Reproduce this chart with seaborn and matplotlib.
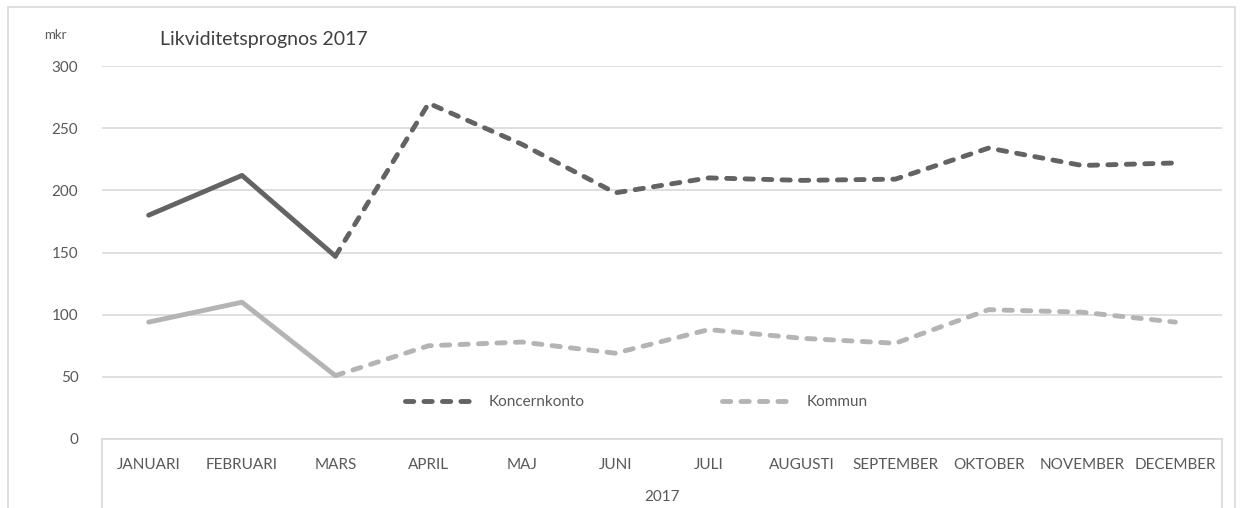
import matplotlib
matplotlib.use("Agg")
import matplotlib.pyplot as plt
from matplotlib.patches import Rectangle
import numpy as np
import pandas as pd
import seaborn as sns

# Monthly liquidity (mkr); the first months are actual outcome, the rest forecast
months = ["JANUARI", "FEBRUARI", "MARS", "APRIL", "MAJ", "JUNI", "JULI",
          "AUGUSTI", "SEPTEMBER", "OKTOBER", "NOVEMBER", "DECEMBER"]
koncernkonto = [180, 212, 147, 270, 237, 198, 210, 208, 209, 234, 220, 222]
kommun = [94, 110, 51, 75, 78, 69, 88, 81, 77, 104, 102, 94]
n_actual = 3  # JANUARI..MARS are outcome
year_label = "2017"
title = "Likviditetsprognos 2017"
unit = "mkr"
yticks = [0, 50, 100, 150, 200, 250, 300]

DARK = "#636363"
LIGHT = "#b4b4b4"
GRID = "#d9d9d9"
TEXT = "#595959"

sns.set_theme(style="white")
plt.rcParams["font.family"] = ["Lato", "DejaVu Sans"]

pos = np.arange(len(months))
frames = []
for name, vals in [("Koncernkonto", koncernkonto), ("Kommun", kommun)]:
    for i, v in enumerate(vals):
        frames.append({"serie": name, "pos": pos[i], "value": v, "month": months[i]})
df = pd.DataFrame(frames)

fig = plt.figure(figsize=(12.43, 5.08), dpi=100)
W, H = 1243, 508
ax = fig.add_axes([102 / W, 1 - 439 / H, 1120 / W, (439 - 66) / H])

colors = {"Koncernkonto": DARK, "Kommun": LIGHT}
dash = (0, (1.7, 2.1))
for name in ["Koncernkonto", "Kommun"]:
    d = df[df["serie"] == name]
    actual = d[d["pos"] <= n_actual - 1]
    forecast = d[d["pos"] >= n_actual - 1]
    sns.lineplot(data=actual, x="pos", y="value", ax=ax, color=colors[name],
                 linewidth=3.5, solid_capstyle="round", solid_joinstyle="round",
                 legend=False)
    sns.lineplot(data=forecast, x="pos", y="value", ax=ax, color=colors[name],
                 linewidth=3.5, linestyle=dash, dash_capstyle="round",
                 dash_joinstyle="round", label=name)

ax.set_xlim(-0.5, len(months) - 0.5)
ax.set_ylim(0, 300)
ax.set_yticks(yticks)
ax.set_yticklabels([str(t) for t in yticks])
ax.set_xticks(pos)
ax.set_xticklabels(months)
ax.set_xlabel("")
ax.set_ylabel("")
ax.tick_params(axis="both", length=0, labelsize=11, colors=TEXT)
ax.tick_params(axis="y", pad=17)
ax.tick_params(axis="x", pad=14)
ax.grid(axis="y", color=GRID, linewidth=1.2)
ax.set_axisbelow(True)
for side in ["top", "right", "left"]:
    ax.spines[side].set_visible(False)
ax.spines["bottom"].set_color(GRID)
ax.spines["bottom"].set_linewidth(1.2)

# Outer box of the two-level category axis
for xa in (0, 1):
    ax.plot([xa, xa], [0, -0.2], transform=ax.transAxes, color=GRID,
            linewidth=1.2, clip_on=False)
fig.text(662 / W, 1 - 497 / H, year_label, ha="center", va="center",
         fontsize=11, color=TEXT)

leg = ax.legend(loc="center", ncol=2, frameon=False,
                handlelength=4.6, columnspacing=9.0, handletextpad=0.9,
                fontsize=11, labelcolor=TEXT)
leg.set_bbox_to_anchor((636 / W, 1 - 402 / H), transform=fig.transFigure)

fig.text(160 / W, 1 - 40 / H, title, ha="left", va="center", fontsize=14,
         color="#404040")
fig.text(44 / W, 1 - 35 / H, unit, ha="left", va="center", fontsize=9.5,
         color=TEXT)

fig.patches.append(Rectangle((8 / W, -0.1), (1235 - 8) / W, 1.1 - 7 / H,
                             transform=fig.transFigure, fill=False,
                             edgecolor=GRID, linewidth=1.2))

fig.savefig("out.png", dpi=100, facecolor="white")
